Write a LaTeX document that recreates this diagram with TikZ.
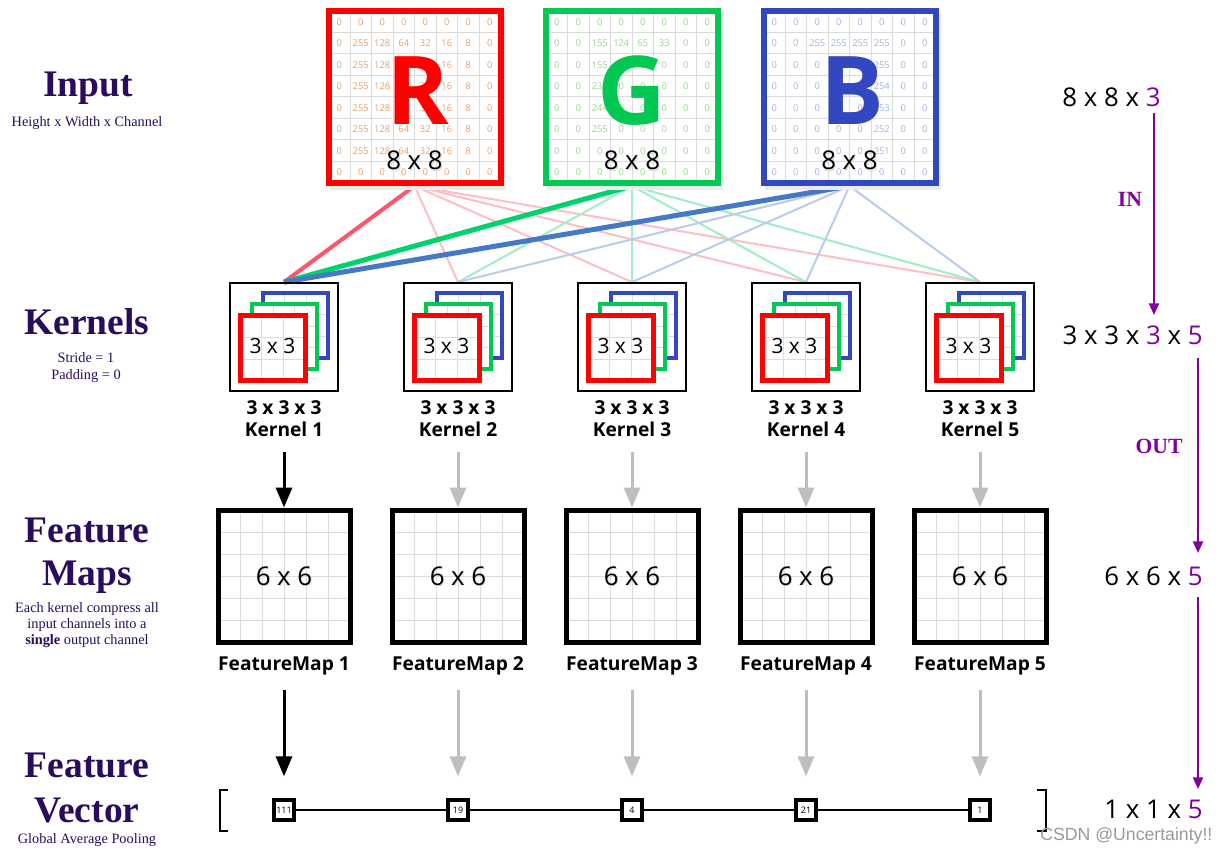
\documentclass[tikz,border=0pt]{standalone}
\usepackage{fontspec}
\setmainfont{Liberation Serif}
\setsansfont{Open Sans}
\usetikzlibrary{arrows.meta}
\pgfdeclarelayer{bg}
\pgfsetlayers{bg,main}
\definecolor{ttl}{RGB}{42,12,94}
\definecolor{prp}{RGB}{128,0,160}
\definecolor{cR}{RGB}{255,0,0}
\definecolor{cG}{RGB}{0,200,83}
\definecolor{cB}{RGB}{51,72,192}
\definecolor{nR}{RGB}{230,160,110}
\definecolor{nG}{RGB}{150,215,140}
\definecolor{nB}{RGB}{160,180,222}
\definecolor{lR}{RGB}{255,85,105}
\definecolor{lG}{RGB}{0,210,110}
\definecolor{lB}{RGB}{70,120,200}
\definecolor{gridc}{RGB}{220,220,220}
\definecolor{arrg}{RGB}{190,190,190}
\newcommand\cellsq[5]{%
  \fill[white] (#1,#2) rectangle ++(#3,#3);
  \foreach \q in {#4} {
    \draw[gridline] ({#1+#3*\q/#5},#2) -- ++(0,#3);
    \draw[gridline] (#1,{#2+#3*\q/#5}) -- ++(#3,0);
  }
}
\newcommand\gridnums[4]{%
  \foreach \rw [count=\ri from 0] in {#4} {
    \foreach \v [count=\ci from 0] in \rw {
      \node[num,text=#2] (#3-\ri-\ci) at ({#1+21.5*\ci+10.75},{11+21.5*\ri+10.75}) {\v};
    }
  }
}
\begin{document}
\begin{tikzpicture}[x=0.6pt,y=-0.6pt,
  title/.style={font=\bfseries\fontsize{22.5}{24}\selectfont,text=ttl,anchor=base,inner sep=0},
  sub/.style={font=\fontsize{8.6}{10}\selectfont,text=ttl,anchor=base,inner sep=0},
  dims/.style={font=\sffamily\fontsize{15.5}{18}\selectfont,anchor=base,inner sep=0},
  klab/.style={font=\sffamily\bfseries\fontsize{11.5}{13}\selectfont,anchor=base,inner sep=0},
  num/.style={font=\sffamily\fontsize{5.6}{6}\selectfont,inner sep=0},
  big/.style={font=\sffamily\bfseries\fontsize{57}{60}\selectfont,anchor=base,inner sep=0},
  mid/.style={font=\sffamily\fontsize{15.5}{18}\selectfont,anchor=base,inner sep=0},
  glow/.style={font=\sffamily\fontsize{15.5}{18}\selectfont,anchor=base,inner sep=0,text=black!13},
  gridline/.style={draw=gridc,line width=0.6pt},
  rgbbox/.style={draw,line width=3.6pt,minimum size=103.2pt,inner sep=0},
  kbox/.style={draw,line width=1.1pt,minimum size=64.8pt,inner sep=0},
  fbox/.style={draw,line width=3pt,minimum size=79.2pt,inner sep=0},
  vbox/.style={draw,fill=white,line width=2.4pt,minimum size=12pt,inner sep=0,font=\sffamily\fontsize{5.4}{5.5}\selectfont},
  bigarr/.style={line width=1.8pt,-{Triangle[length=12pt,width=9.6pt]}},
  parr/.style={draw=prp,line width=1.2pt,-{Triangle[length=7pt,width=6pt]}},
  lbl/.style={font=\bfseries\fontsize{13}{14}\selectfont,text=prp,anchor=base,inner sep=0},
]
\begin{pgfonlayer}{bg}
\fill[white] (0,0) rectangle (1226,853);
\end{pgfonlayer}
\useasboundingbox (0,0) rectangle (1226,853);

% ---------- RGB input matrices ----------
\foreach \x in {328.5, 546, 763.5} {
  \fill[black!8] ({\x+1},14) rectangle ++(176,176);
  \cellsq{\x}{11}{172}{1,...,7}{8}
}
\gridnums{328.5}{nR}{rn}{{0,0,0,0,0,0,0,0},{0,255,128,64,32,16,8,0},{0,255,128,64,32,16,8,0},{0,255,128,64,32,16,8,0},{0,255,128,64,32,16,8,0},{0,255,128,64,32,16,8,0},{0,255,128,64,32,16,8,0},{0,0,0,0,0,0,0,0}}
\gridnums{546}{nG}{gn}{{0,0,0,0,0,0,0,0},{0,0,155,124,65,33,0,0},{0,0,155,0,0,0,0,0},{0,0,233,0,0,0,0,0},{0,0,244,0,0,0,0,0},{0,0,255,0,0,0,0,0},{0,0,0,0,0,0,0,0},{0,0,0,0,0,0,0,0}}
\gridnums{763.5}{nB}{bn}{{0,0,0,0,0,0,0,0},{0,0,255,255,255,255,0,0},{0,0,0,0,0,255,0,0},{0,0,0,0,0,254,0,0},{0,0,0,0,0,253,0,0},{0,0,0,0,0,252,0,0},{0,0,0,0,0,251,0,0},{0,0,0,0,0,0,0,0}}

\node[big,text=cR] (Rl) at (418,125) {R};
\node[big,text=cG] (Gl) at (632,125) {G};
\node[big,text=cB] (Bl) at (852,125) {B};
\foreach \x/\s in {414.5/R, 632/G, 849.5/B} {
  \node[glow] (\s ss) at (\x+1,171.5) {8 x 8};
  \node[mid] (\s s) at (\x,170) {8 x 8};
}
\node[rgbbox,draw=cR] (R) at (414.5,97) {};
\node[rgbbox,draw=cG] (G) at (632,97) {};
\node[rgbbox,draw=cB] (B) at (849.5,97) {};

% ---------- kernels, feature maps, vector ----------
\foreach \i/\val in {1/111,2/19,3/4,4/21,5/1} {
  \pgfmathsetmacro\c{284+174*(\i-1)}
  \ifnum\i=1 \def\ac{black}\else\def\ac{arrg}\fi
  \node[kbox] (k\i) at (\c,337) {};
  \cellsq{\c-21}{293}{65}{1,2}{3}
  \draw[cB,line width=2.4pt] (\c-21,293) rectangle ++(65,65);
  \cellsq{\c-32.5}{304.5}{65}{1,2}{3}
  \draw[cG,line width=2.4pt] (\c-32.5,304.5) rectangle ++(65,65);
  \cellsq{\c-44}{316}{65}{1,2}{3}
  \draw[cR,line width=3pt] (\c-44,316) rectangle ++(65,65);
  \node[font=\sffamily\fontsize{12.6}{14}\selectfont,anchor=base,inner sep=0] (kt\i) at (\c-11.5,354) {3 x 3};
  \node[klab] (kl\i) at (\c,414) {3 x 3 x 3};
  \node[klab] (kn\i) at (\c,436) {Kernel \i};
  % feature map
  \cellsq{\c-66}{510}{132}{1,...,5}{6}
  \node[fbox] (f\i) at (\c,576) {};
  \node[glow] (fss\i) at (\c+1,586.5) {6 x 6};
  \node[mid] (fs\i) at (\c,585) {6 x 6};
  \node[klab] (fl\i) at (\c,670) {FeatureMap \i};
  % vector entry
  \node[vbox] (v\i) at (\c,810) {\val};
  % arrows
  \coordinate (a\i) at (\c,452);
  \draw[bigarr,color=\ac] (a\i) -- (f\i.north);
  \coordinate (b\i) at (\c,690);
  \draw[bigarr,color=\ac,shorten >=13pt] (b\i) -- (v\i.north);
}
\draw[line width=0.9pt] (v1) -- (v2) -- (v3) -- (v4) -- (v5);
\draw[line width=1.2pt] (228,790) -- (220,790) -- (220,831) -- (228,831);
\draw[line width=1.2pt] (1037,790) -- (1046,790) -- (1046,831) -- (1037,831);

% ---------- connections input -> kernels ----------
\begin{pgfonlayer}{bg}
\foreach \s/\col in {R/lR, G/lG, B/lB} {
  \foreach \k in {2,...,5} {
    \draw[line width=1.2pt,draw=\col!38] (\s.south) -- (k\k.north);
  }
}
\draw[line width=2.4pt,draw=lR] (R.south) -- (k1.north);
\draw[line width=3pt,draw=lG] (G.south) -- (k1.north);
\draw[line width=3pt,draw=lB] (B.south) -- (k1.north);
\end{pgfonlayer}

% ---------- left titles ----------
\node[title] (tin) at (88,97) {Input};
\node[sub] (tins) at (87,127) {Height x Width x Channel};
\node[title] (tk) at (87,335) {Kernels};
\node[sub] (tk1) at (86,363) {Stride = 1};
\node[sub] (tk2) at (86,380) {Padding = 0};
\node[title] (tf1) at (87,542) {Feature};
\node[title] (tf2) at (87,585) {Maps};
\node[sub] (tfs1) at (87,612) {Each kernel compress all};
\node[sub] (tfs2) at (87,628) {input channels into a};
\node[sub] (tfs3) at (87,644) {\textbf{single} output channel};
\node[title] (tv1) at (87,777) {Feature};
\node[title] (tv2) at (87,822) {Vector};
\node[sub] (tvs) at (87,843) {Global Average Pooling};

% ---------- right column ----------
\node[dims,anchor=base west] (d1) at (1062,107) {8 x 8 x \textcolor{prp}{3}};
\node[dims,anchor=base east] (d2) at (1203,345) {3 x 3 x \textcolor{prp}{3} x \textcolor{prp}{5}};
\node[dims,anchor=base east] (d3) at (1203,585) {6 x 6 x \textcolor{prp}{5}};
\node[dims,anchor=base east] (d4) at (1203,818) {1 x 1 x \textcolor{prp}{5}};
\coordinate (p1) at (1154,113);
\coordinate (p2) at (1154,315);
\coordinate (p3) at (1198,358);
\coordinate (p4) at (1198,553);
\coordinate (p5) at (1198,597);
\coordinate (p6) at (1198,789);
\draw[parr] (p1) -- (p2);
\draw[parr] (p3) -- (p4);
\draw[parr] (p5) -- (p6);
\node[lbl] (lin) at (1130,207) {IN};
\node[lbl] (lout) at (1159,453) {OUT};
\node[font=\fontspec{Liberation Sans}\fontsize{10.6}{12}\selectfont,text=black!40,anchor=base west,inner sep=0] (wm) at (1040,840) {CSDN @Uncertainty!!};
\end{tikzpicture}
\end{document}
